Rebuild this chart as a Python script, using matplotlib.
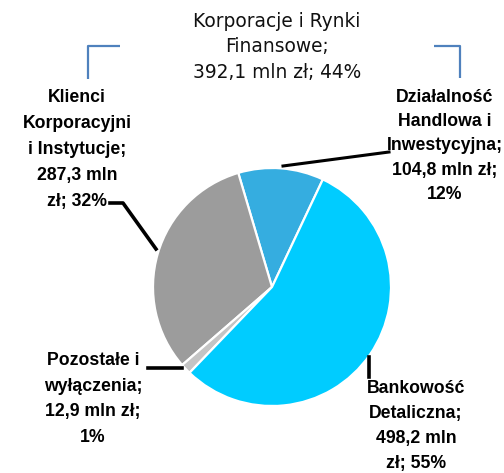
import matplotlib
matplotlib.use("Agg")
import matplotlib.pyplot as plt

# Data
segments = ["Działalność Handlowa i Inwestycyjna", "Klienci Korporacyjni i Instytucje",
            "Pozostałe i wyłączenia", "Bankowość Detaliczna"]
values = [104.8, 287.3, 12.9, 498.2]
colors = ["#35ADE0", "#9C9C9C", "#C4C4C4", "#00CCFF"]
labels = [
    "Działalność\nHandlowa i\nInwestycyjna;\n104,8 mln zł;\n12%",
    "Klienci\nKorporacyjni\ni Instytucje;\n287,3 mln\nzł; 32%",
    "Pozostałe i\nwyłączenia;\n12,9 mln zł;\n1%",
    "Bankowość\nDetaliczna;\n498,2 mln\nzł; 55%",
]
group_label = "Korporacje i Rynki\nFinansowe;\n392,1 mln zł; 44%"

W, H = 504, 473
fig = plt.figure(figsize=(W / 100, H / 100), dpi=100)
ax = fig.add_axes([0, 0, 1, 1])

def Y(y):
    return H - y

cx, cy, r = 272, 287, 119
ax.pie(values, colors=colors, startangle=64.7, counterclock=True,
       center=(cx, Y(cy)), radius=r, frame=True,
       wedgeprops=dict(edgecolor="white", linewidth=1.6))
ax.set_xlim(0, W)
ax.set_ylim(0, H)
ax.axis("off")

# Group label and bracket
ax.text(277, Y(47), group_label, ha="center", va="center", fontsize=13.4,
        family="DejaVu Sans", color="#111111", linespacing=1.45)
bc = "#4F81BD"
ax.plot([88, 88, 120], [Y(79), Y(46), Y(46)], color=bc, lw=1.6, solid_capstyle="butt")
ax.plot([434, 460, 460], [Y(46), Y(46), Y(78)], color=bc, lw=1.6, solid_capstyle="butt")

lab_kw = dict(ha="center", va="center", fontsize=12.7, fontweight="bold",
              family=["Liberation Sans", "DejaVu Sans"], color="black")

# Handlowa
ax.text(445, Y(146), labels[0], linespacing=1.55, **lab_kw)
ax.plot([283, 389], [Y(166), Y(152)], color="black", lw=2.2)
# Klienci
ax.text(77, Y(149.5), labels[1], linespacing=1.7, **lab_kw)
ax.plot([110, 123, 156], [Y(203), Y(203), Y(249)], color="black", lw=2.6)
# Pozostale
ax.text(93, Y(399), labels[2], linespacing=1.65, **lab_kw)
ax.plot([148, 182], [Y(368), Y(368)], color="black", lw=2.6)
# Bankowosc
ax.text(416, Y(426), labels[3], linespacing=1.6, **lab_kw)
ax.plot([369, 369], [Y(357), Y(377)], color="black", lw=2.6)

fig.savefig("out.png", dpi=100)
